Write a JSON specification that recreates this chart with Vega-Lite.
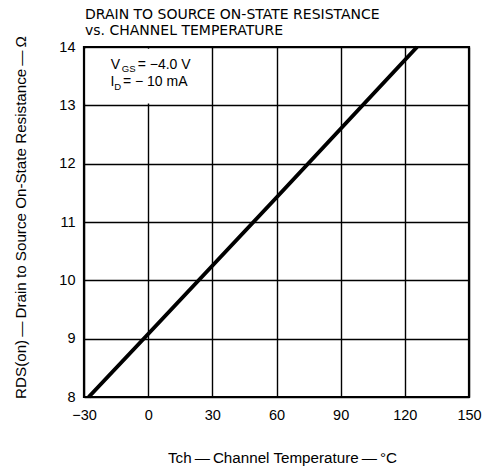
{
  "$schema": "https://vega.github.io/schema/vega-lite/v6.json",
  "width": 385,
  "height": 350,
  "autosize": {"type": "none"},
  "padding": {"left": 84, "top": 47, "right": 18, "bottom": 75},
  "background": "white",
  "title": {
    "text": ["DRAIN TO SOURCE ON-STATE RESISTANCE", "vs. CHANNEL TEMPERATURE"],
    "anchor": "start",
    "frame": "group",
    "font": "DejaVu Sans",
    "fontSize": 14,
    "fontWeight": "normal",
    "lineHeight": 16,
    "color": "black",
    "offset": -2,
    "dx": 1
  },
  "config": {
    "view": {"stroke": "black", "strokeWidth": 2.2},
    "axis": {
      "grid": true,
      "gridColor": "black",
      "gridWidth": 1.4,
      "gridOpacity": 1,
      "ticks": false,
      "domain": false,
      "labelFont": "Liberation Sans",
      "labelFontSize": 14.5,
      "labelColor": "black",
      "titleFont": "Liberation Sans",
      "titleFontSize": 15.2,
      "titleFontWeight": "normal",
      "titleColor": "black",
      "labelFlush": false,
      "labelOverlap": false
    }
  },
  "layer": [
    {
      "data": {"values": [
        {"t": -27.8, "r": 8.0},
        {"t": 0, "r": 9.08},
        {"t": 60, "r": 11.42},
        {"t": 125.7, "r": 14.0}
      ]},
      "mark": {"type": "line", "color": "black", "strokeWidth": 4},
      "encoding": {
        "x": {
          "field": "t", "type": "quantitative",
          "scale": {"domain": [-30, 150], "nice": false, "zero": false},
          "axis": {
            "values": [-30, 0, 30, 60, 90, 120, 150],
            "format": "d",
            "labelPadding": 11,
            "title": "Tch\u2009—\u2009Channel Temperature\u2009—\u2009°C",
            "titleX": 198,
            "titleY": 65.7,
            "titleBaseline": "alphabetic",
            "titleAlign": "center"
          }
        },
        "y": {
          "field": "r", "type": "quantitative",
          "scale": {"domain": [8, 14], "nice": false, "zero": false},
          "axis": {
            "values": [8, 9, 10, 11, 12, 13, 14],
            "format": "d",
            "labelPadding": 9,
            "title": "RDS(on)\u2009—\u2009Drain to Source On-State Resistance\u2009—\u2009Ω",
            "titleX": -64,
            "titleY": 170,
            "titleAngle": 270,
            "titleBaseline": "middle",
            "titleAlign": "center"
          }
        }
      }
    },
    {
      "data": {"values": [{"x1": -29.3, "x2": 29.3, "y1": 13.03, "y2": 13.97}]},
      "mark": {"type": "rect", "fill": "white"},
      "encoding": {
        "x": {"field": "x1", "type": "quantitative"},
        "x2": {"field": "x2"},
        "y": {"field": "y1", "type": "quantitative"},
        "y2": {"field": "y2"}
      }
    },
    {
      "data": {"values": [
        {"t": -17.52, "r": 13.618, "label": "V"},
        {"t": -4.9, "r": 13.618, "label": "= −4.0 V"},
        {"t": -17.61, "r": 13.323, "label": "I"},
        {"t": -11.8, "r": 13.323, "label": "= − 10 mA"}
      ]},
      "mark": {"type": "text", "align": "left", "baseline": "alphabetic", "font": "Liberation Sans", "fontSize": 14, "color": "black"},
      "encoding": {
        "x": {"field": "t", "type": "quantitative"},
        "y": {"field": "r", "type": "quantitative"},
        "text": {"field": "label"}
      }
    },
    {
      "data": {"values": [
        {"t": -12.3, "r": 13.58, "label": "GS"},
        {"t": -15.9, "r": 13.263, "label": "D"}
      ]},
      "mark": {"type": "text", "align": "left", "baseline": "alphabetic", "font": "Liberation Sans", "fontSize": 9.5, "color": "black"},
      "encoding": {
        "x": {"field": "t", "type": "quantitative"},
        "y": {"field": "r", "type": "quantitative"},
        "text": {"field": "label"}
      }
    }
  ]
}
